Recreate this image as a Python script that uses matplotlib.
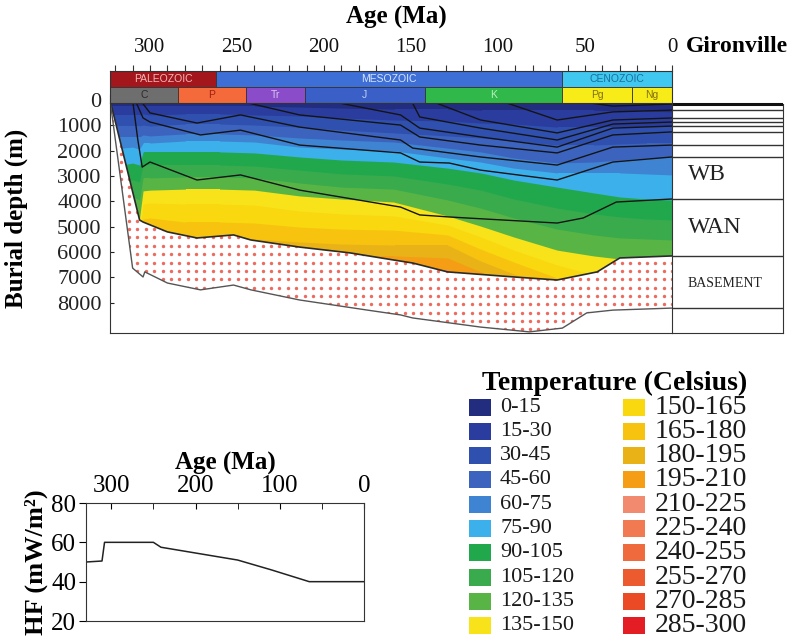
import numpy as np
import matplotlib.pyplot as plt
from matplotlib.patches import Polygon, Rectangle

plt.rcParams['font.family'] = ['Liberation Serif', 'DejaVu Serif']

# ---- Gironville burial / thermal history ----
# ages (Ma) where the isotherm depths were read off the section
iso_age = [323, 316, 310, 306, 304, 300, 280, 260, 240, 214, 190, 160, 129, 110, 91, 66, 45, 30, 15, 0]

# isotherm depths (m), upper boundary of each temperature class
iso_15 = [240, 240, 240, 240, 240, 240, 240, 240, 240, 280, 320, 360, 360, 400, 400, 400, 400, 430, 430, 470]
iso_30 = [590, 590, 590, 590, 550, 590, 550, 550, 590, 630, 710, 790, 830, 910, 950, 1070, 1070, 1070, 1070, 1070]
iso_45 = [1030, 1030, 1030, 1030, 990, 1030, 950, 950, 990, 1070, 1190, 1300, 1420, 1500, 1620, 1780, 1780, 1740, 1700, 1700]
iso_60 = [1460, 1460, 1460, 1460, 1380, 1420, 1340, 1340, 1380, 1500, 1580, 1660, 1900, 2050, 2290, 2490, 2450, 2370, 2290, 2250]
iso_75 = [1900, 1900, 1860, 1940, 1700, 1700, 1620, 1620, 1660, 1860, 1940, 2010, 2290, 2450, 2690, 2880, 2880, 2880, 2920, 2960]
iso_90 = [2570, 2570, 2490, 2570, 2050, 2050, 2050, 2050, 2090, 2250, 2370, 2450, 2690, 2880, 3160, 3440, 3670, 3830, 3910, 3950]
iso_105 = [3240, 3240, 3160, 3240, 2570, 2570, 2570, 2570, 2610, 2770, 2920, 3000, 3320, 3560, 3910, 4270, 4500, 4620, 4700, 4740]
iso_120 = [3950, 3950, 3830, 3950, 3080, 3080, 3040, 3040, 3080, 3280, 3440, 3520, 3950, 4270, 4660, 5100, 5330, 5450, 5490, 5530]
iso_135 = [4660, 4660, 4500, 4660, 3590, 3560, 3520, 3520, 3560, 3790, 3910, 4030, 4580, 4980, 5410, 5930, 6160, 6280, 6360, 6400]
iso_150 = [5370, 5370, 5210, 5370, 4110, 4070, 4110, 4110, 4150, 4390, 4500, 4580, 4940, 5410, 5930, 6520, 6910, 7110, 7190, 7270]
iso_165 = [6080, 6080, 5930, 6080, 4700, 4660, 4820, 4820, 4860, 5020, 5100, 5140, 5330, 5890, 6400, 7030, 7510, 7900, 7980, 8060]
iso_180 = [6790, 6790, 6640, 6790, 5250, 5210, 5450, 5450, 5490, 5610, 5690, 5730, 5730, 6360, 6870, 7510, 8100, 8690, 8770, 8850]
iso_195 = [7510, 7510, 7350, 7510, 5850, 5850, 6040, 6040, 6080, 6120, 6160, 6160, 6240, 6790, 7350, 7980, 8690, 9480, 9560, 9640]
iso_210 = [8220, 8220, 8060, 8220, 6400, 6400, 6600, 6600, 6640, 6680, 6720, 6720, 6720, 7270, 7820, 8490, 9280, 10270, 10350, 10430]

# top of basement (base of sediments) and lower basement line
base_top_age = [323, 306, 304, 290, 273, 252, 242, 214, 185, 160, 149, 129, 91, 66, 43, 30, 0]
base_top_depth = [0, 4740, 4820, 5210, 5450, 5330, 5530, 5810, 6040, 6320, 6440, 6790, 6990, 7110, 6790, 6240, 6160]
base_bot_age = [323, 310, 304, 303, 290, 271, 252, 242, 214, 175, 156, 149, 110, 82, 63, 49, 34, 0]
base_bot_depth = [0, 6640, 6990, 6790, 7230, 7500, 7310, 7500, 7900, 8300, 8490, 8610, 8970, 9160, 9010, 8410, 8300, 8220]

# stratigraphic horizons (age Ma, depth m)
hz_wan_age = [310, 307, 304.5, 300, 273, 248, 214, 156, 145, 128, 118, 66, 51, 32, 0]
hz_wan_depth = [0, 1580, 2650, 2450, 3160, 2960, 3560, 4230, 4540, 4620, 4660, 4860, 4660, 4030, 3910]
hz_wb_age = [308.6, 304, 300, 271, 248, 214, 156, 145, 128, 110, 66, 34, 0]
hz_wb_depth = [0, 710, 870, 1380, 1190, 1780, 2090, 2450, 2490, 2770, 3160, 2450, 2250]
hz_4_age = [305.7, 300, 273, 248, 214, 156, 149, 110, 66, 34, 0]
hz_4_depth = [0, 510, 910, 590, 1070, 1580, 1900, 2250, 2570, 1860, 1780]
hz_5_age = [251, 214, 156, 145, 110, 66, 34, 0]
hz_5_depth = [0, 590, 990, 1460, 1780, 2090, 1380, 1260]
hz_6_age = [200, 156, 145, 110, 66, 34, 0]
hz_6_depth = [0, 590, 1110, 1460, 1860, 1110, 1030]
hz_7_age = [150, 145, 110, 66, 34, 0]
hz_7_depth = [0, 670, 1110, 1580, 950, 870]
hz_8_age = [140, 110, 66, 34, 0]
hz_8_depth = [0, 790, 1300, 790, 710]
hz_9_age = [100, 66, 34, 0]
hz_9_depth = [0, 790, 470, 400]
hz_10_age = [60, 34, 0]
hz_10_depth = [0, 240, 160]

# present-day well column
column_depths = [160, 400, 710, 870, 1030, 1260, 1780, 2250, 3910, 6160, 8220]
unit_names = ['WB', 'WAN', 'BASEMENT']
unit_depths = [2960, 5020, 7230]

# time scale
era_names = ['PALEOZOIC', 'MESOZOIC', 'CENOZOIC']
era_start = [323, 262, 63]
era_end = [262, 63, 0]
era_colors = ['#a3161c', '#3d6fd6', '#40c8f0']
era_text = ['#f4b8b8', '#d8e4ff', '#1a6f9a']
period_names = ['C', 'P', 'Tr', 'J', 'K', 'Pg', 'Ng']
period_start = [323, 284, 245, 211, 142, 63, 23]
period_end = [284, 245, 211, 142, 63, 23, 0]
period_colors = ['#6e6e6e', '#f46a3a', '#8a4cc8', '#3a60c8', '#30b84a', '#f8ec18', '#f8ec18']
period_text = ['#2a2a2a', '#a02010', '#d8c4f4', '#c0d0f8', '#b8f0c0', '#807010', '#807010']

# temperature classes
temp_labels = ['0-15', '15-30', '30-45', '45-60', '60-75', '75-90', '90-105', '105-120',
               '120-135', '135-150', '150-165', '165-180', '180-195', '195-210',
               '210-225', '225-240', '240-255', '255-270', '270-285', '285-300']
temp_colors = ['#232d7f', '#2a3d9e', '#3050b0', '#3c64bf', '#3f84d2', '#3cb0ea',
               '#22a84c', '#3aab4c', '#58b545', '#f8e21a', '#f9d810', '#f7c30f',
               '#e9b217', '#f59d14', '#f28a70', '#f17a52', '#ef6b3d', '#ec5b2f',
               '#ea4a26', '#e31d23']

# heat flow history
hf_age = [330, 311, 308, 250, 241, 150, 110, 65, 0]
hf_value = [50, 50.5, 60, 60, 57.5, 51, 46, 40, 40]

W, H = 810, 637


def box(x0, y0, x1, y1):
    return [x0 / W, 1 - y1 / H, (x1 - x0) / W, (y1 - y0) / H]


fig = plt.figure(figsize=(W / 100, H / 100), dpi=100)
fig.patch.set_facecolor('white')

# overlay for free text / legend, in pixel coordinates
lax = fig.add_axes([0, 0, 1, 1], zorder=-1)
lax.set_xlim(0, W)
lax.set_ylim(H, 0)
lax.axis('off')

# ---- main burial plot ----
ax = fig.add_axes(box(110, 95, 672, 333))
ax.set_xlim(323, 0)
ax.set_ylim(9204, -198)

sed = Polygon(np.column_stack([[323, 0] + base_top_age[::-1],
                               [0, 0] + base_top_depth[::-1]]),
              closed=True, fill=False, lw=0, transform=ax.transData)
ax.add_patch(sed)

isotherms = [iso_15, iso_30, iso_45, iso_60, iso_75, iso_90, iso_105,
             iso_120, iso_135, iso_150, iso_165, iso_180, iso_195, iso_210]
bounds = [[-1000] * len(iso_age)] + isotherms
for upper, col in zip(bounds, temp_colors):
    f = ax.fill_between(iso_age, upper, 20000, color=col, lw=0)
    f.set_clip_path(sed)

# basement: white with a grid of red dots
bas = Polygon(np.column_stack([base_top_age + base_bot_age[::-1],
                               base_top_depth + base_bot_depth[::-1]]),
              closed=True, facecolor='white', edgecolor='none')
ax.add_patch(bas)
gx, gy = np.meshgrid(np.arange(0, 324, 4.8), np.arange(150, 9300, 330))
dots = ax.scatter(gx.ravel(), gy.ravel(), s=6, marker='o', color='#ec6a5e', lw=0)
dots.set_clip_path(bas)
ax.plot(base_top_age, base_top_depth, color='#2a2a2a', lw=1.2)
ax.plot(base_bot_age, base_bot_depth, color='#555555', lw=1.0)

horizons = [(hz_wan_age, hz_wan_depth), (hz_wb_age, hz_wb_depth),
            (hz_4_age, hz_4_depth), (hz_5_age, hz_5_depth), (hz_6_age, hz_6_depth),
            (hz_7_age, hz_7_depth), (hz_8_age, hz_8_depth), (hz_9_age, hz_9_depth),
            (hz_10_age, hz_10_depth)]
for a, d in horizons:
    ax.plot(a, d, color='#141414', lw=1.0)

for s in ['top', 'right']:
    ax.spines[s].set_visible(False)
for s in ['left', 'bottom']:
    ax.spines[s].set_color('#333333')
ax.set_xticks([])
ax.set_yticks(range(0, 9000, 1000))
ax.tick_params(axis='y', direction='in', length=3, labelsize=16, colors='#222222', pad=6)
ax.set_ylabel('Burial depth (m)', fontsize=18, fontweight='bold')
ax.yaxis.set_label_coords((28 - 110) / 562, (333 - 218) / 238)

# ---- geological time scale ----
axb = fig.add_axes(box(110, 71, 672, 103), zorder=5)
axb.set_xlim(323, 0)
axb.set_ylim(0, 2)
for name, a0, a1, c, tc in zip(era_names, era_start, era_end, era_colors, era_text):
    axb.add_patch(Rectangle((a1, 1), a0 - a1, 1, facecolor=c, edgecolor='#333333', lw=0.6))
    axb.text((a0 + a1) / 2, 1.5, name, color=tc, fontsize=7.5, ha='center', va='center',
             family='Liberation Sans')
for name, a0, a1, c, tc in zip(period_names, period_start, period_end, period_colors, period_text):
    axb.add_patch(Rectangle((a1, 0), a0 - a1, 1, facecolor=c, edgecolor='#333333', lw=0.6))
    axb.text((a0 + a1) / 2, 0.5, name, color=tc, fontsize=7.5, ha='center', va='center',
             family='Liberation Sans')
axb.xaxis.tick_top()
axb.set_xticks(range(300, -1, -50))
axb.set_xticks(np.arange(320, -1, -10), minor=True)
axb.set_yticks([])
axb.tick_params(axis='x', which='both', direction='out', length=4, width=0.8,
                labelsize=15, pad=6, colors='#333333', labelcolor='#111111')
for s in axb.spines.values():
    s.set_color('#333333')
    s.set_linewidth(0.8)

lax.text(396, 17, 'Age (Ma)', fontsize=18, fontweight='bold', ha='center', va='center')
lax.text(686, 47, 'Gironville', fontsize=17, fontweight='bold', ha='left', va='center')

# ---- present-day column ----
axc = fig.add_axes(box(672, 95, 783, 333))
axc.set_xlim(0, 1)
axc.set_ylim(9204, -198)
axc.set_xticks([])
axc.set_yticks([])
axc.spines['top'].set_visible(False)
for s in ['left', 'right']:
    axc.spines[s].set_bounds(9204, column_depths[0])
for s in axc.spines.values():
    s.set_color('#333333')
axc.hlines(column_depths, 0, 1, color='#333333', lw=1.0)
axc.hlines(column_depths[0], 0, 1, color='#111111', lw=2.2)
for name, d in zip(unit_names, unit_depths):
    axc.text(0.14, d, name, fontsize=10 if name == 'BASEMENT' else 17,
             ha='left', va='center', color='#222222')

# ---- legend ----
lax.text(615, 383, 'Temperature (Celsius)', fontsize=20, fontweight='bold',
         ha='center', va='center')
for i, (lab, col) in enumerate(zip(temp_labels, temp_colors)):
    c, r = divmod(i, 10)
    y = 407 + 24.3 * r
    xs = [469, 623][c]
    lax.add_patch(Rectangle((xs, y - 8.5), 22, 17, facecolor=col, edgecolor='none'))
    lax.text(xs + [31, 32][c], y, lab, fontsize=[16, 20][c], va='center', ha='left',
             color='#1a1a1a')

# ---- heat flow inset ----
axh = fig.add_axes(box(86, 503, 364, 621))
axh.plot(hf_age, hf_value, color='#222222', lw=1.1)
axh.set_xlim(330, 0)
axh.set_ylim(20, 80)
axh.xaxis.tick_top()
axh.set_xticks([300, 200, 100, 0])
axh.set_xticks([250, 150, 50], minor=True)
axh.tick_params(axis='x', which='both', direction='in', length=4, labelsize=18, pad=4)
axh.set_yticks([20, 40, 60, 80])
axh.tick_params(axis='y', direction='out', length=5, labelsize=18, pad=2)
axh.xaxis.set_label_position('top')
axh.set_xlabel('Age (Ma)', fontsize=18, fontweight='bold', labelpad=4)
axh.set_ylabel('HF (mW/m²)', fontsize=19, fontweight='bold', labelpad=2)
for s in axh.spines.values():
    s.set_color('#333333')

fig.savefig('out.png', dpi=100)
